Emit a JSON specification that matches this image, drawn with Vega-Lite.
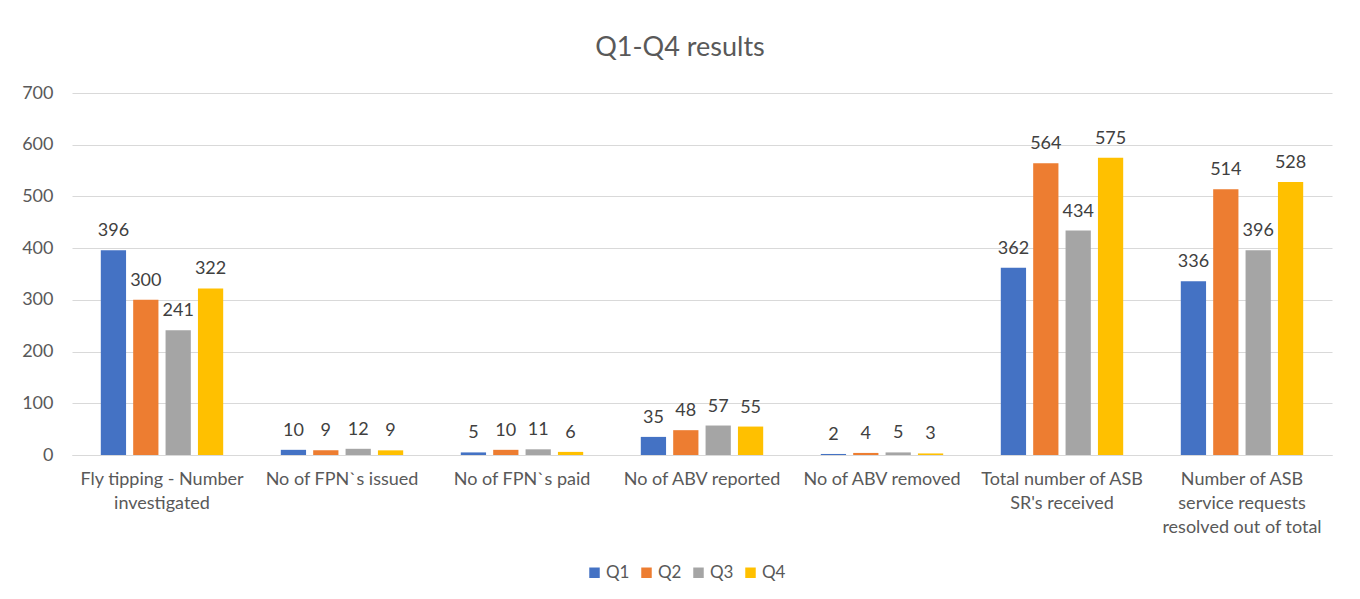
{
  "$schema": "https://vega.github.io/schema/vega-lite/v6.json",
  "width": 1260,
  "height": 362,
  "autosize": {"type": "none"},
  "padding": {"left": 72, "top": 93, "right": 28, "bottom": 144},
  "background": "white",
  "title": {
    "text": "Q1-Q4 results",
    "font": "Lato",
    "fontSize": 27,
    "fontWeight": "normal",
    "color": "#595959",
    "anchor": "middle",
    "dx": -22,
    "offset": 22
  },
  "config": {
    "view": {"stroke": null},
    "font": "Lato"
  },
  "data": {
    "values": [
      {"measure": "Fly tipping - Number investigated", "quarter": "Q1", "value": 396},
      {"measure": "Fly tipping - Number investigated", "quarter": "Q2", "value": 300},
      {"measure": "Fly tipping - Number investigated", "quarter": "Q3", "value": 241},
      {"measure": "Fly tipping - Number investigated", "quarter": "Q4", "value": 322},
      {"measure": "No of FPN`s issued", "quarter": "Q1", "value": 10},
      {"measure": "No of FPN`s issued", "quarter": "Q2", "value": 9},
      {"measure": "No of FPN`s issued", "quarter": "Q3", "value": 12},
      {"measure": "No of FPN`s issued", "quarter": "Q4", "value": 9},
      {"measure": "No of FPN`s paid", "quarter": "Q1", "value": 5},
      {"measure": "No of FPN`s paid", "quarter": "Q2", "value": 10},
      {"measure": "No of FPN`s paid", "quarter": "Q3", "value": 11},
      {"measure": "No of FPN`s paid", "quarter": "Q4", "value": 6},
      {"measure": "No of ABV reported", "quarter": "Q1", "value": 35},
      {"measure": "No of ABV reported", "quarter": "Q2", "value": 48},
      {"measure": "No of ABV reported", "quarter": "Q3", "value": 57},
      {"measure": "No of ABV reported", "quarter": "Q4", "value": 55},
      {"measure": "No of ABV removed", "quarter": "Q1", "value": 2},
      {"measure": "No of ABV removed", "quarter": "Q2", "value": 4},
      {"measure": "No of ABV removed", "quarter": "Q3", "value": 5},
      {"measure": "No of ABV removed", "quarter": "Q4", "value": 3},
      {"measure": "Total number of ASB SR's received", "quarter": "Q1", "value": 362},
      {"measure": "Total number of ASB SR's received", "quarter": "Q2", "value": 564},
      {"measure": "Total number of ASB SR's received", "quarter": "Q3", "value": 434},
      {"measure": "Total number of ASB SR's received", "quarter": "Q4", "value": 575},
      {"measure": "Number of ASB service requests resolved out of total", "quarter": "Q1", "value": 336},
      {"measure": "Number of ASB service requests resolved out of total", "quarter": "Q2", "value": 514},
      {"measure": "Number of ASB service requests resolved out of total", "quarter": "Q3", "value": 396},
      {"measure": "Number of ASB service requests resolved out of total", "quarter": "Q4", "value": 528}
    ]
  },
  "encoding": {
    "x": {
      "field": "measure",
      "type": "nominal",
      "sort": null,
      "title": null,
      "scale": {"paddingInner": 0.32, "paddingOuter": 0.16},
      "axis": {
        "labelAngle": 0,
        "labelFont": "Lato",
        "labelFontSize": 18,
        "labelColor": "#595959",
        "labelPadding": 15,
        "labelLineHeight": 24,
        "labelBaseline": "top",
        "labelLimit": 300,
        "ticks": false,
        "domainColor": "#D9D9D9",
        "domainWidth": 1,
        "labelExpr": "datum.label == 'Fly tipping - Number investigated' ? ['Fly tipping - Number', 'investigated'] : datum.label == \"Total number of ASB SR's received\" ? ['Total number of ASB', \"SR's received\"] : datum.label == 'Number of ASB service requests resolved out of total' ? ['Number of ASB', 'service requests', 'resolved out of total'] : datum.label"
      }
    },
    "xOffset": {
      "field": "quarter",
      "type": "nominal",
      "scale": {"paddingInner": 0.22, "paddingOuter": 0}
    },
    "y": {
      "field": "value",
      "type": "quantitative",
      "title": null,
      "scale": {"domain": [0, 700]},
      "axis": {
        "values": [0, 100, 200, 300, 400, 500, 600, 700],
        "labelFont": "Lato",
        "labelFontSize": 18,
        "labelColor": "#595959",
        "labelPadding": 19,
        "ticks": false,
        "domain": false,
        "gridColor": "#D9D9D9",
        "gridWidth": 1
      }
    }
  },
  "layer": [
    {
      "mark": {"type": "bar"},
      "encoding": {
        "color": {
          "field": "quarter",
          "type": "nominal",
          "title": null,
          "scale": {"domain": ["Q1", "Q2", "Q3", "Q4"], "range": ["#4472C4", "#ED7D31", "#A5A5A5", "#FFC000"]},
          "legend": {
            "orient": "none",
            "legendX": 514,
            "legendY": 471,
            "direction": "horizontal",
            "symbolType": "square",
            "symbolSize": 110,
            "symbolStrokeWidth": 0,
            "labelFont": "Lato",
            "labelFontSize": 17,
            "labelColor": "#595959",
            "labelOffset": 3,
            "columnPadding": 8
          }
        }
      }
    },
    {
      "mark": {"type": "text", "baseline": "bottom", "dy": -10, "font": "Lato", "fontSize": 18, "color": "#404040"},
      "encoding": {
        "text": {"field": "value", "type": "quantitative"}
      }
    }
  ]
}
